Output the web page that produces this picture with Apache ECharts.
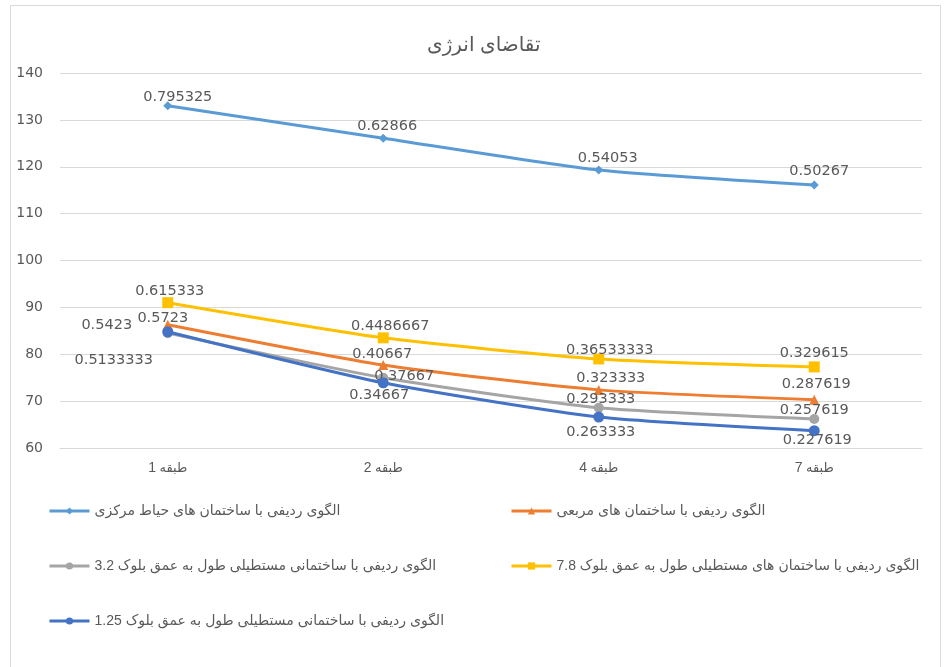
<!DOCTYPE html>
<html>
<head>
<meta charset="utf-8">
<script src="https://cdn.jsdelivr.net/npm/echarts@6/dist/echarts.min.js"></script>
<style>
html,body{margin:0;padding:0;background:#fff;}
#chart{width:945px;height:667px;}
</style>
</head>
<body>
<div id="chart"></div>
<script>
// ---- data ----
var titleText = 'تقاضای انرژی';
var categories = ['طبقه 1', 'طبقه 2', 'طبقه 4', 'طبقه 7'];
var yTicks = [60, 70, 80, 90, 100, 110, 120, 130, 140];

var seriesNames = [
  'الگوی ردیفی با ساختمان های حیاط مرکزی',
  'الگوی ردیفی با ساختمان های مربعی',
  'الگوی ردیفی با ساختمانی مستطیلی طول به عمق بلوک 3.2',
  'الگوی ردیفی با ساختمان های مستطیلی طول به عمق بلوک 7.8',
  'الگوی ردیفی با ساختمانی مستطیلی طول به عمق بلوک 1.25'
];

var valuesCentral = [133.0, 126.1, 119.3, 116.1];
var valuesSquare  = [86.3, 77.7, 72.4, 70.3];
var values32      = [84.5, 75.0, 68.6, 66.2];
var values78      = [91.0, 83.5, 79.0, 77.3];
var values125     = [84.8, 73.9, 66.6, 63.7];

var labelsCentral = ['0.795325', '0.62866', '0.54053', '0.50267'];
var labelsSquare  = ['0.5723', '0.40667', '0.323333', '0.287619'];
var labels32      = ['0.5423', '0.37667', '0.293333', '0.257619'];
var labels78      = ['0.615333', '0.4486667', '0.36533333', '0.329615'];
var labels125     = ['0.5133333', '0.34667', '0.263333', '0.227619'];

// ---- layout / style ----
var FONT = '"Liberation Sans", "DejaVu Sans", sans-serif';
var NUMFONT = '"DejaVu Sans", sans-serif';
var TXT = '#595959';
var colors = ['#5B9BD5', '#ED7D31', '#A5A5A5', '#FFC000', '#4472C4'];
var symbols = ['diamond', 'triangle', 'circle', 'rect', 'circle'];
var symbolSizes = [9, 10, 10, 11, 11];
var labelOffsets = [
  [[10, -9], [4, -12], [9, -12], [5, -14]],
  [[-5, -6], [-1, -11], [12, -12], [2, -15]],
  [[-61, -8], [21, -1], [2, -8], [0, -9]],
  [[2, -11], [7, -12], [11, -9], [0, -14]],
  [[-54, 28], [-4, 12], [2, 15], [3, 10]]
];
var legendPos = [
  {left: 43, top: 499}, {left: 505, top: 499},
  {left: 43, top: 554}, {left: 505, top: 554},
  {left: 43, top: 609}
];

var allValues = [valuesCentral, valuesSquare, values32, values78, values125];
var allLabels = [labelsCentral, labelsSquare, labels32, labels78, labels125];

var series = allValues.map(function (vals, si) {
  return {
    name: seriesNames[si],
    type: 'line',
    smooth: 0.2,
    z: si === 4 ? 5 : 3,
    symbol: symbols[si],
    symbolSize: symbolSizes[si],
    lineStyle: {width: 3, color: colors[si]},
    itemStyle: {color: colors[si]},
    data: vals.map(function (v, i) {
      return {
        value: v,
        label: {
          show: true,
          position: 'inside',
          offset: labelOffsets[si][i],
          formatter: allLabels[si][i],
          color: TXT,
          fontSize: 14.5,
          fontFamily: NUMFONT,
          align: 'center',
          verticalAlign: 'middle'
        }
      };
    })
  };
});

var legends = seriesNames.map(function (n, i) {
  return {
    data: [n],
    left: legendPos[i].left,
    top: legendPos[i].top,
    itemWidth: 40,
    itemHeight: 9,
    itemGap: 10,
    lineStyle: {width: 3},
    textStyle: {color: TXT, fontSize: 14, fontFamily: FONT},
    selectedMode: false
  };
});

var chart = echarts.init(document.getElementById('chart'), null, {renderer: 'canvas'});
chart.setOption({
  backgroundColor: '#ffffff',
  animation: false,
  color: colors,
  title: {
    text: titleText,
    left: 422,
    top: 30,
    textStyle: {color: TXT, fontSize: 20, fontWeight: 'normal', fontFamily: FONT}
  },
  graphic: [{
    type: 'rect',
    shape: {x: 10.5, y: 5.5, width: 930, height: 680},
    style: {fill: 'none', stroke: '#d9d9d9', lineWidth: 1},
    silent: true,
    z: -10
  }],
  legend: legends,
  grid: {left: 60, right: 23, top: 73, bottom: 219, containLabel: false},
  xAxis: {
    type: 'category',
    data: categories,
    boundaryGap: true,
    axisLine: {lineStyle: {color: '#d9d9d9', width: 1}},
    axisTick: {show: false},
    axisLabel: {
      color: TXT, fontSize: 13, fontFamily: FONT, margin: 13,
      // draw number to the left of the word, as in the reference
      formatter: function (v) {
        var parts = v.split(' ');
        return '{n|' + parts[1] + '}{s| }{w|' + parts[0] + '}';
      },
      rich: {
        n: {color: TXT, fontSize: 14, fontFamily: FONT},
        s: {color: TXT, fontSize: 13, fontFamily: FONT},
        w: {color: TXT, fontSize: 13, fontFamily: FONT}
      }
    }
  },
  yAxis: {
    type: 'value',
    min: yTicks[0],
    max: yTicks[yTicks.length - 1],
    interval: 10,
    axisLine: {show: false},
    axisTick: {show: false},
    splitLine: {lineStyle: {color: '#d9d9d9', width: 1}},
    axisLabel: {color: TXT, fontSize: 14, fontFamily: NUMFONT, margin: 17}
  },
  series: series
});
</script>
</body>
</html>
